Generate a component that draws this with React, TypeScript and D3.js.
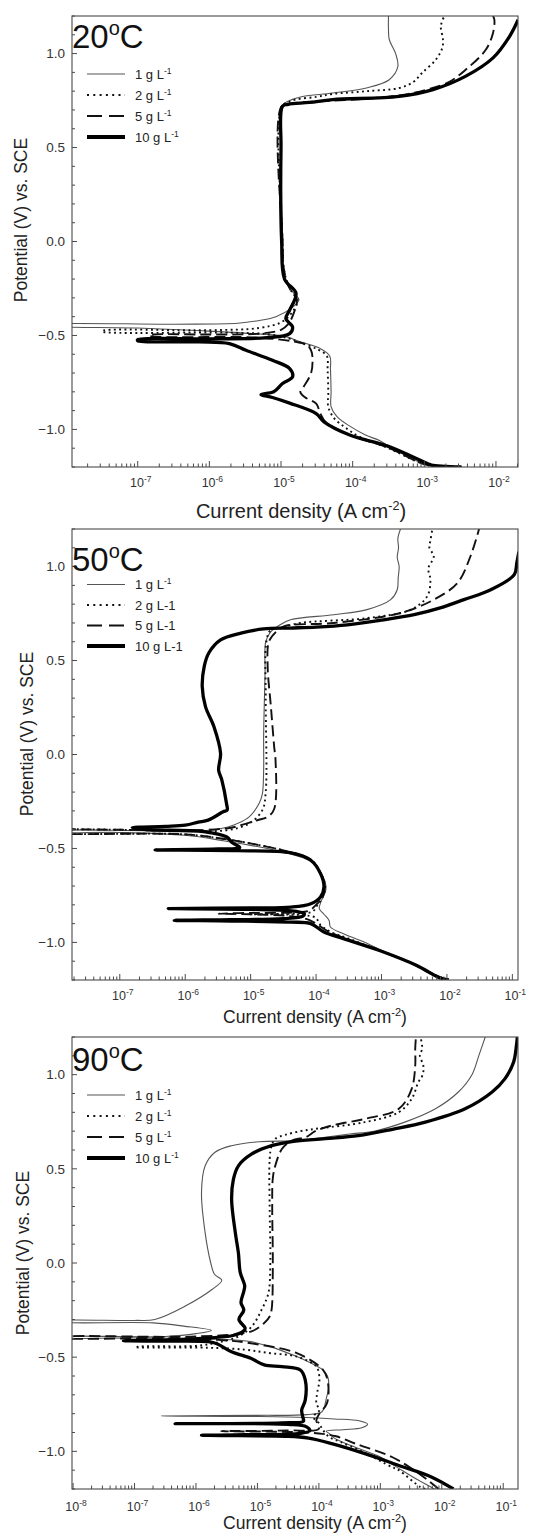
import React from "react";
import * as d3 from "d3";

// [potential (V vs. SCE), current density (A cm^-2)]
type Pt = [number, number];

const concentrations = ["1", "2", "5", "10"];
const temperatures = ["20", "50", "90"];
const decadeLabels20 = [-7, -6, -5, -4, -3, -2];
const decadeLabels50 = [-7, -6, -5, -4, -3, -2, -1];
const decadeLabels90 = [-8, -7, -6, -5, -4, -3, -2, -1];
const xDomain20: [number, number] = [1.21e-8, 2.03e-2];
const xDomain50: [number, number] = [1.86e-8, 0.122];
const xDomain90: [number, number] = [9.6e-9, 0.174];
const yDomain: [number, number] = [-1.2, 1.2];
const yLabelTicks = [-1.0, -0.5, 0.0, 0.5, 1.0];

// ---------- 20 °C ----------
const c20_1: Pt[] = [
  [-1.2, 3.3e-3], [-1.19, 1.12e-3], [-1.1, 3.55e-4], [-1.06, 2.4e-4], [-1.03, 1.51e-4],
  [-0.98, 8.9e-5], [-0.93, 6.0e-5], [-0.88, 5.0e-5], [-0.8, 5.0e-5], [-0.68, 4.9e-5],
  [-0.61, 4.8e-5], [-0.57, 3.55e-5], [-0.535, 1.9e-5], [-0.505, 1.12e-5], [-0.49, 4.0e-6],
  [-0.475, 8.0e-7], [-0.46, 1.0e-7], [-0.447, 5e-9], [-0.443, 5e-9], [-0.44, 3.2e-7],
  [-0.435, 2.5e-6], [-0.42, 5.0e-6], [-0.4, 8.5e-6], [-0.356, 1.38e-5], [-0.31, 1.78e-5],
  [-0.276, 1.51e-5], [-0.2, 1.12e-5], [0.0, 1.05e-5], [0.5, 1.0e-5], [0.7, 1.0e-5],
  [0.73, 1.07e-5], [0.755, 1.41e-5], [0.772, 2.0e-5], [0.79, 5.25e-5], [0.817, 1.55e-4],
  [0.861, 3.24e-4], [0.93, 4.27e-4], [1.0, 3.98e-4], [1.075, 3.24e-4], [1.13, 3.16e-4],
  [1.2, 3.16e-4],
];
const c20_2: Pt[] = [
  [-1.2, 3.3e-3], [-1.19, 1.12e-3], [-1.1, 3.16e-4], [-1.04, 1.26e-4], [-0.99, 7.9e-5],
  [-0.94, 5.5e-5], [-0.88, 4.57e-5], [-0.8, 4.57e-5], [-0.68, 4.47e-5], [-0.61, 4.37e-5],
  [-0.575, 3.3e-5], [-0.54, 1.9e-5], [-0.515, 1.26e-5], [-0.495, 7.1e-6], [-0.485, 2.0e-6],
  [-0.479, 3.2e-8], [-0.475, 3.2e-8], [-0.472, 1.0e-6], [-0.46, 5.0e-6], [-0.43, 1.0e-5],
  [-0.38, 1.41e-5], [-0.31, 1.7e-5], [-0.25, 1.32e-5], [-0.15, 1.1e-5], [0.0, 1.05e-5],
  [0.72, 1.02e-5], [0.74, 1.26e-5], [0.755, 1.58e-5], [0.77, 3.16e-5], [0.785, 5.25e-5],
  [0.8, 1.58e-4], [0.817, 4.47e-4], [0.85, 7.1e-4], [0.897, 9.3e-4], [0.968, 1.45e-3],
  [1.03, 1.78e-3], [1.075, 1.82e-3], [1.146, 1.7e-3], [1.2, 1.9e-3],
];
const c20_5: Pt[] = [
  [-1.2, 3.3e-3], [-1.19, 1.12e-3], [-1.09, 2.82e-4], [-1.03, 9.1e-5], [-0.96, 4.17e-5],
  [-0.916, 3.55e-5], [-0.863, 3.1e-5], [-0.828, 2.14e-5], [-0.8, 1.86e-5], [-0.77, 2.09e-5],
  [-0.7, 2.63e-5], [-0.62, 2.75e-5], [-0.58, 2.63e-5], [-0.55, 2.29e-5], [-0.535, 1.66e-5],
  [-0.525, 1.12e-5], [-0.51, 4.0e-6], [-0.502, 1.45e-7], [-0.498, 1.45e-7], [-0.495, 1.0e-6],
  [-0.49, 5.0e-6], [-0.47, 1.0e-5], [-0.44, 1.26e-5], [-0.38, 1.51e-5], [-0.31, 1.66e-5],
  [-0.25, 1.32e-5], [-0.15, 1.1e-5], [0.0, 1.05e-5], [0.72, 1.02e-5], [0.735, 1.41e-5],
  [0.745, 3.16e-5], [0.76, 1.58e-4], [0.78, 5.0e-4], [0.81, 1.12e-3], [0.85, 2.24e-3],
  [0.915, 3.8e-3], [1.02, 7.2e-3], [1.11, 9.1e-3], [1.18, 9.5e-3], [1.2, 9.1e-3],
];
const c20_10: Pt[] = [
  [-1.2, 3.3e-3], [-1.19, 1.26e-3], [-1.183, 1.12e-3], [-1.09, 3.16e-4], [-1.03, 9.1e-5],
  [-0.96, 3.98e-5], [-0.916, 3.1e-5], [-0.86, 1.32e-5], [-0.83, 7.6e-6], [-0.815, 5.25e-6],
  [-0.8, 7.9e-6], [-0.756, 1.05e-5], [-0.72, 1.45e-5], [-0.676, 1.32e-5], [-0.632, 7.6e-6],
  [-0.579, 3.24e-6], [-0.543, 1.9e-6], [-0.534, 7.2e-7], [-0.528, 1.0e-7], [-0.522, 1.0e-7],
  [-0.518, 1.0e-6], [-0.512, 6.3e-6], [-0.49, 1.32e-5], [-0.455, 1.45e-5], [-0.41, 1.17e-5],
  [-0.365, 1.32e-5], [-0.276, 1.62e-5], [-0.2, 1.12e-5], [0.0, 1.02e-5], [0.5, 1.0e-5],
  [0.72, 1.05e-5], [0.73, 1.26e-5], [0.74, 2.5e-5], [0.755, 5.25e-5], [0.772, 4.47e-4],
  [0.808, 1.32e-3], [0.88, 3.8e-3], [0.977, 9.1e-3], [1.092, 1.55e-2], [1.18, 2.04e-2],
];

// ---------- 50 °C ----------
const c50_1: Pt[] = [
  [-1.2, 8.9e-3], [-1.17, 5.6e-3], [-1.1, 2.5e-3], [-1.05, 1.12e-3], [-1.008, 6.3e-4],
  [-0.954, 2.63e-4], [-0.918, 1.66e-4], [-0.883, 1.58e-4], [-0.85, 1.32e-4], [-0.82, 1.12e-4],
  [-0.79, 1.17e-4], [-0.72, 1.41e-4], [-0.68, 1.38e-4], [-0.634, 1.2e-4], [-0.58, 9.5e-5],
  [-0.55, 6.3e-5], [-0.52, 3.16e-5], [-0.49, 1.26e-5], [-0.46, 4.0e-6], [-0.43, 1.0e-6],
  [-0.415, 1.0e-7], [-0.412, 5e-9], [-0.408, 5e-9], [-0.405, 3.2e-7], [-0.403, 2.4e-6],
  [-0.376, 5.4e-6], [-0.332, 9.5e-6], [-0.26, 1.35e-5], [-0.21, 1.51e-5], [-0.083, 1.58e-5],
  [0.1, 1.58e-5], [0.43, 1.66e-5], [0.6, 1.7e-5], [0.65, 2.0e-5], [0.69, 2.82e-5],
  [0.717, 4.07e-5], [0.744, 1.86e-4], [0.771, 6.0e-4], [0.824, 1.38e-3], [0.877, 1.74e-3],
  [0.94, 1.8e-3], [1.0, 1.86e-3], [1.05, 1.74e-3], [1.1, 1.82e-3], [1.15, 1.78e-3], [1.2, 1.95e-3],
];
const c50_2: Pt[] = [
  [-1.2, 1.0e-2], [-1.17, 6.3e-3], [-1.1, 2.4e-3], [-1.04, 8.9e-4], [-0.98, 3.16e-4],
  [-0.94, 1.58e-4], [-0.9, 1.12e-4], [-0.87, 1.0e-4], [-0.855, 6.3e-5], [-0.85, 1.0e-5],
  [-0.846, 5.0e-5], [-0.835, 8.9e-5], [-0.8, 1.05e-4], [-0.76, 1.26e-4], [-0.7, 1.38e-4],
  [-0.63, 1.17e-4], [-0.57, 9.1e-5], [-0.54, 6.3e-5], [-0.51, 3.16e-5], [-0.48, 1.26e-5],
  [-0.45, 4.0e-6], [-0.425, 1.0e-6], [-0.414, 5e-9], [-0.408, 5e-9], [-0.405, 1.0e-6],
  [-0.403, 4.3e-6], [-0.367, 9.5e-6], [-0.296, 1.51e-5], [-0.2, 1.7e-5], [0.3, 1.7e-5],
  [0.6, 1.74e-5], [0.66, 2.0e-5], [0.675, 2.9e-5], [0.7, 5.75e-5], [0.726, 6.0e-4],
  [0.771, 2.82e-3], [0.842, 5.0e-3], [0.93, 5.6e-3], [0.99, 5.2e-3], [1.055, 6.3e-3],
  [1.1, 5.4e-3], [1.14, 5.6e-3], [1.2, 6.0e-3],
];
const c50_5: Pt[] = [
  [-1.2, 1.0e-2], [-1.17, 6.3e-3], [-1.1, 2.5e-3], [-1.04, 8.9e-4], [-0.98, 2.82e-4],
  [-0.94, 1.51e-4], [-0.9, 1.0e-4], [-0.875, 7.1e-5], [-0.86, 4.0e-5], [-0.85, 1.0e-5],
  [-0.847, 3.24e-6], [-0.843, 1.0e-5], [-0.84, 5.0e-5], [-0.83, 7.9e-5], [-0.8, 1.0e-4],
  [-0.76, 1.26e-4], [-0.7, 1.35e-4], [-0.63, 1.17e-4], [-0.57, 8.9e-5], [-0.54, 6.3e-5],
  [-0.51, 3.16e-5], [-0.48, 1.26e-5], [-0.45, 4.0e-6], [-0.425, 1.0e-6], [-0.414, 5e-9],
  [-0.408, 5e-9], [-0.405, 1.0e-6], [-0.403, 1.74e-6], [-0.39, 5.0e-6], [-0.376, 7.1e-6],
  [-0.35, 1.26e-5], [-0.332, 1.82e-5], [-0.29, 2.29e-5], [-0.03, 2.4e-5], [0.041, 2.29e-5],
  [0.255, 2.04e-5], [0.468, 1.82e-5], [0.6, 1.9e-5], [0.65, 2.4e-5], [0.682, 3.24e-5],
  [0.7, 1.86e-4], [0.753, 1.95e-3], [0.824, 6.3e-3], [0.913, 1.45e-2], [1.055, 2.29e-2],
  [1.2, 3.1e-2],
];
const c50_10: Pt[] = [
  [-1.2, 1.07e-2], [-1.19, 7.9e-3], [-1.123, 3.47e-3], [-1.043, 9.3e-4], [-0.98, 2.63e-4],
  [-0.945, 1.32e-4], [-0.9, 8.3e-5], [-0.892, 4.17e-5], [-0.886, 5.0e-6], [-0.883, 6.8e-7],
  [-0.879, 5.0e-6], [-0.874, 3.16e-5], [-0.86, 6.3e-5], [-0.847, 6.6e-5], [-0.835, 5.0e-5],
  [-0.824, 1.0e-5], [-0.82, 5.5e-7], [-0.816, 1.0e-5], [-0.812, 4.17e-5], [-0.794, 8.3e-5],
  [-0.758, 1.17e-4], [-0.705, 1.32e-4], [-0.634, 1.17e-4], [-0.563, 8.3e-5], [-0.524, 4.17e-5],
  [-0.512, 6.3e-6], [-0.508, 3.47e-7], [-0.503, 3.16e-6], [-0.495, 6.8e-6], [-0.47, 5.25e-6],
  [-0.438, 4.27e-6], [-0.41, 1.9e-6], [-0.4, 2.5e-7], [-0.39, 1.55e-7], [-0.383, 5.0e-7],
  [-0.376, 1.0e-6], [-0.36, 1.58e-6], [-0.349, 2.24e-6], [-0.305, 3.8e-6], [-0.296, 4.37e-6],
  [-0.26, 4.27e-6], [-0.136, 3.63e-6], [-0.083, 3.24e-6], [0.006, 3.47e-6], [0.148, 2.75e-6],
  [0.255, 2.04e-6], [0.362, 1.82e-6], [0.468, 1.95e-6], [0.54, 2.29e-6], [0.61, 3.47e-6],
  [0.646, 7.1e-6], [0.668, 1.58e-5], [0.673, 4.0e-5], [0.678, 1.0e-4], [0.69, 3.0e-4],
  [0.715, 1.0e-3], [0.744, 3.16e-3], [0.78, 7.9e-3], [0.824, 1.82e-2], [0.877, 4.68e-2],
  [0.957, 0.107], [1.02, 0.117], [1.08, 0.126],
];

// ---------- 90 °C ----------
const c90_1: Pt[] = [
  [-1.2, 7.6e-3], [-1.15, 4.0e-3], [-1.08, 1.78e-3], [-1.03, 1.0e-3], [-0.98, 4.0e-4],
  [-0.93, 1.78e-4], [-0.906, 1.48e-4], [-0.893, 1.32e-4], [-0.885, 2.5e-4], [-0.875, 5.0e-4],
  [-0.856, 6.2e-4], [-0.838, 4.5e-4], [-0.828, 1.78e-4], [-0.82, 6.3e-5], [-0.815, 1.0e-5],
  [-0.812, 2.75e-7], [-0.809, 1.0e-5], [-0.805, 6.3e-5], [-0.79, 1.12e-4], [-0.72, 1.32e-4],
  [-0.65, 1.45e-4], [-0.6, 1.38e-4], [-0.568, 1.17e-4], [-0.52, 6.3e-5], [-0.497, 4.37e-5],
  [-0.444, 1.62e-5], [-0.43, 1.12e-5], [-0.417, 7.8e-6], [-0.405, 2.5e-6], [-0.398, 1.0e-7],
  [-0.396, 5e-9], [-0.393, 5e-9], [-0.39, 3.2e-7], [-0.375, 1.0e-6], [-0.358, 1.78e-6],
  [-0.335, 6.3e-7], [-0.318, 2.0e-7], [-0.312, 5e-9], [-0.308, 5e-9], [-0.305, 1.0e-7],
  [-0.3, 2.14e-7], [-0.23, 6.6e-7], [-0.141, 1.82e-6], [-0.092, 2.63e-6], [-0.06, 2.0e-6],
  [0.0, 1.74e-6], [0.16, 1.41e-6], [0.374, 1.23e-6], [0.516, 1.41e-6], [0.588, 2.04e-6],
  [0.623, 3.8e-6], [0.644, 1.05e-5], [0.65, 4.68e-5], [0.668, 1.26e-4], [0.685, 3.16e-4],
  [0.7, 7.9e-4], [0.748, 2.5e-3], [0.819, 7.9e-3], [0.908, 1.86e-2], [1.0, 3.1e-2],
  [1.1, 4.0e-2], [1.2, 5.1e-2],
];
const c90_2: Pt[] = [
  [-1.2, 5.4e-3], [-1.19, 4.5e-3], [-1.1, 2.0e-3], [-1.084, 1.55e-3], [-1.0, 5.0e-4],
  [-0.95, 2.24e-4], [-0.924, 1.48e-4], [-0.888, 1.17e-4], [-0.85, 1.0e-4], [-0.817, 8.1e-5],
  [-0.781, 1.02e-4], [-0.746, 9.1e-5], [-0.68, 9.5e-5], [-0.621, 1.02e-4], [-0.55, 9.1e-5],
  [-0.497, 4.37e-5], [-0.479, 1.62e-5], [-0.46, 6.2e-6], [-0.45, 1.58e-6], [-0.447, 1.02e-7],
  [-0.443, 1.26e-7], [-0.44, 1.0e-6], [-0.425, 2.04e-6], [-0.39, 4.9e-6], [-0.337, 8.1e-6],
  [-0.248, 1.17e-5], [-0.159, 1.51e-5], [0.0, 1.62e-5], [0.3, 1.58e-5], [0.55, 1.58e-5],
  [0.623, 1.7e-5], [0.659, 1.95e-5], [0.68, 2.82e-5], [0.7, 5.0e-5], [0.712, 8.7e-5],
  [0.748, 5.6e-4], [0.801, 2.0e-3], [0.872, 3.24e-3], [0.961, 4.17e-3], [1.0, 4.9e-3],
  [1.05, 5.0e-3], [1.1, 4.4e-3], [1.139, 4.8e-3], [1.2, 4.5e-3],
];
const c90_5: Pt[] = [
  [-1.2, 8.9e-3], [-1.16, 6.3e-3], [-1.1, 3.55e-3], [-1.03, 1.55e-3], [-0.96, 4.0e-4],
  [-0.92, 1.9e-4], [-0.905, 1.0e-4], [-0.897, 3.16e-5], [-0.893, 2.57e-6], [-0.889, 3.16e-5],
  [-0.88, 1.0e-4], [-0.835, 9.1e-5], [-0.8, 1.02e-4], [-0.746, 1.35e-4], [-0.639, 1.41e-4],
  [-0.568, 1.17e-4], [-0.479, 4.37e-5], [-0.426, 7.8e-6], [-0.408, 2.3e-6], [-0.4, 3.2e-7],
  [-0.397, 5e-9], [-0.394, 5e-9], [-0.392, 3.2e-7], [-0.39, 1.1e-6], [-0.364, 7.8e-6],
  [-0.319, 1.29e-5], [-0.284, 1.58e-5], [-0.248, 1.7e-5], [0.0, 1.78e-5], [0.3, 1.74e-5],
  [0.45, 1.78e-5], [0.516, 1.95e-5], [0.605, 2.5e-5], [0.65, 3.63e-5], [0.67, 6.3e-5],
  [0.7, 8.7e-5], [0.73, 1.62e-4], [0.765, 5.6e-4], [0.819, 2.0e-3], [0.925, 3.24e-3],
  [1.05, 3.7e-3], [1.14, 3.7e-3], [1.2, 3.8e-3],
];
const c90_10: Pt[] = [
  [-1.2, 1.55e-2], [-1.137, 6.9e-3], [-1.075, 2.0e-3], [-1.012, 5.6e-4], [-0.959, 1.62e-4],
  [-0.93, 6.8e-5], [-0.92, 3.16e-5], [-0.917, 5.0e-6], [-0.915, 1.23e-6], [-0.912, 6.3e-6],
  [-0.905, 5.0e-5], [-0.89, 7.1e-5], [-0.87, 6.3e-5], [-0.857, 3.16e-5], [-0.853, 4.57e-7],
  [-0.849, 2.5e-5], [-0.84, 5.6e-5], [-0.82, 5.5e-5], [-0.781, 5.25e-5], [-0.728, 6.0e-5],
  [-0.621, 6.0e-5], [-0.568, 5.0e-5], [-0.55, 2.5e-5], [-0.541, 1.29e-5], [-0.506, 7.8e-6],
  [-0.47, 3.7e-6], [-0.43, 2.24e-6], [-0.418, 1.58e-6], [-0.415, 3.2e-7], [-0.413, 6.6e-8],
  [-0.41, 3.2e-7], [-0.4, 1.26e-6], [-0.385, 4.0e-6], [-0.36, 6.0e-6], [-0.345, 6.3e-6],
  [-0.3, 5.0e-6], [-0.25, 6.0e-6], [-0.21, 5.4e-6], [-0.15, 6.0e-6], [-0.12, 6.2e-6],
  [-0.05, 5.25e-6], [0.054, 4.9e-6], [0.16, 4.37e-6], [0.339, 3.8e-6], [0.445, 4.07e-6],
  [0.516, 4.9e-6], [0.579, 8.1e-6], [0.623, 1.7e-5], [0.645, 3.63e-5], [0.66, 1.26e-4],
  [0.676, 4.37e-4], [0.71, 1.58e-3], [0.748, 5.4e-3], [0.819, 2.4e-2], [0.908, 6.6e-2],
  [0.979, 0.107], [1.068, 0.148], [1.14, 0.162], [1.2, 0.17],
];

const seriesByPanel: Pt[][][] = [
  [c20_1, c20_2, c20_5, c20_10],
  [c50_1, c50_2, c50_5, c50_10],
  [c90_1, c90_2, c90_5, c90_10],
];
const legendSuperscript = [
  [true, true, true, true],
  [true, false, false, false],
  [true, true, true, true],
];
const xDomains = [xDomain20, xDomain50, xDomain90];
const decadeLabels = [decadeLabels20, decadeLabels50, decadeLabels90];

// ---------- layout / style ----------
const FONT = "'Liberation Sans', Arial, Helvetica, sans-serif";
const W = 536;
const H = 1537;
const L = 72;
const R = 518;
const layout = [
  { top: 16, bottom: 467, tempY: 48, legendY: 74, legendStep: 21, tickY: 487, titleY: 518, titleX: 301, titleSize: 20, yTitleX: 27, yTitleCY: 220 },
  { top: 529, bottom: 980, tempY: 571, legendY: 584.5, legendStep: 20.5, tickY: 1000, titleY: 1023, titleX: 315, titleSize: 17.5, yTitleX: 33, yTitleCY: 734 },
  { top: 1037, bottom: 1489, tempY: 1071, legendY: 1095, legendStep: 21, tickY: 1511, titleY: 1529, titleX: 315, titleSize: 17.5, yTitleX: 29, yTitleCY: 1253 },
];
const lineStyles = [
  { stroke: "#555", width: 1.1, dash: undefined as string | undefined, legendDash: undefined as string | undefined },
  { stroke: "#111", width: 1.9, dash: "1.9 3.4", legendDash: "2 4.3" },
  { stroke: "#111", width: 1.9, dash: "11 5", legendDash: "15 7" },
  { stroke: "#000", width: 3.3, dash: undefined, legendDash: undefined },
];

function Panel({ idx }: { idx: number }) {
  const p = layout[idx];
  const dom = xDomains[idx];
  const x = d3.scaleLog().domain(dom).range([L, R]);
  const y = d3.scaleLinear().domain(yDomain).range([p.bottom, p.top]);
  const line = d3
    .line<Pt>()
    .x((d) => x(Math.max(d[1], 1e-12)))
    .y((d) => y(d[0]))
    .curve(d3.curveCatmullRom.alpha(0.5));
  const clipId = `clip-${idx}`;

  const xTicks: { v: number; major: boolean }[] = [];
  const lo = Math.floor(Math.log10(dom[0]));
  const hi = Math.ceil(Math.log10(dom[1]));
  for (let n = lo; n <= hi; n++) {
    for (let k = 1; k <= 9; k++) {
      const v = k * Math.pow(10, n);
      if (v >= dom[0] * 0.999 && v <= dom[1] * 1.001) xTicks.push({ v, major: k === 1 });
    }
  }
  const yTicks = d3.range(-12, 13).map((v) => v / 10);
  const series = seriesByPanel[idx];
  const ts = p.titleSize;

  return (
    <g>
      <defs>
        <clipPath id={clipId}>
          <rect x={L} y={p.top} width={R - L} height={p.bottom - p.top} />
        </clipPath>
      </defs>
      <g clipPath={`url(#${clipId})`}>
        {series.map((s, i) => (
          <path
            key={i}
            d={line(s) || ""}
            fill="none"
            stroke={lineStyles[i].stroke}
            strokeWidth={lineStyles[i].width}
            strokeDasharray={lineStyles[i].dash}
            strokeLinejoin="round"
          />
        ))}
      </g>
      <rect x={L} y={p.top} width={R - L} height={p.bottom - p.top} fill="none" stroke="#4a4a4a" strokeWidth={1.1} />
      {xTicks.map((t, i) => (
        <line
          key={i}
          x1={x(t.v)}
          x2={x(t.v)}
          y1={p.bottom}
          y2={p.bottom - (t.major ? 6 : 3.5)}
          stroke="#4a4a4a"
          strokeWidth={1}
        />
      ))}
      {decadeLabels[idx].map((n) => (
        <text key={n} x={x(Math.pow(10, n)) + 3} y={p.tickY} fontSize={12.5} fill="#333" textAnchor="middle">
          10
          <tspan dy={-5} fontSize={8.5}>
            {`-${-n}`}
          </tspan>
        </text>
      ))}
      {yTicks.map((v, i) => {
        const major = Math.abs(Math.round(v * 10) % 5) === 0;
        return (
          <line key={i} x1={L} x2={L + (major ? 5 : 3)} y1={y(v)} y2={y(v)} stroke="#4a4a4a" strokeWidth={1} />
        );
      })}
      {yLabelTicks.map((v) => (
        <text key={v} x={L - 7} y={y(v) + 4.7} fontSize={13.5} fill="#333" textAnchor="end">
          {d3.format(".1f")(v)}
        </text>
      ))}
      <text
        transform={`translate(${p.yTitleX},${p.yTitleCY}) rotate(-90)`}
        fontSize={17.5}
        fill="#222"
        textAnchor="middle"
      >
        Potential (V) vs. SCE
      </text>
      <text x={p.titleX} y={p.titleY} fontSize={ts} fill="#222" textAnchor="middle">
        Current density (A cm
        <tspan dy={-ts * 0.4} fontSize={ts * 0.63}>
          -2
        </tspan>
        <tspan dy={ts * 0.4}>)</tspan>
      </text>
      <text x={L} y={p.tempY} fontSize={33} fill="#111">
        {temperatures[idx]}
        <tspan dy={-13} fontSize={20}>
          o
        </tspan>
        <tspan dy={13}>C</tspan>
      </text>
      {concentrations.map((c, i) => {
        const ly = p.legendY + i * p.legendStep;
        const st = lineStyles[i];
        return (
          <g key={c}>
            <line
              x1={87}
              x2={125}
              y1={ly}
              y2={ly}
              stroke={st.stroke}
              strokeWidth={i === 3 ? 3.8 : st.width}
              strokeDasharray={st.legendDash}
            />
            <text x={135} y={ly + 4.6} fontSize={13} fill="#222">
              {`${c} g L`}
              {legendSuperscript[idx][i] ? (
                <tspan dy={-5} fontSize={8.5}>
                  -1
                </tspan>
              ) : (
                "-1"
              )}
            </text>
          </g>
        );
      })}
    </g>
  );
}

export default function App() {
  return (
    <div style={{ position: "absolute", left: 0, top: 0, width: W, height: H, background: "#fff" }}>
      <svg width={W} height={H} viewBox={`0 0 ${W} ${H}`} style={{ display: "block" }} fontFamily={FONT}>
        <rect x={0} y={0} width={W} height={H} fill="#fff" />
        {[0, 1, 2].map((i) => (
          <Panel key={i} idx={i} />
        ))}
      </svg>
    </div>
  );
}
